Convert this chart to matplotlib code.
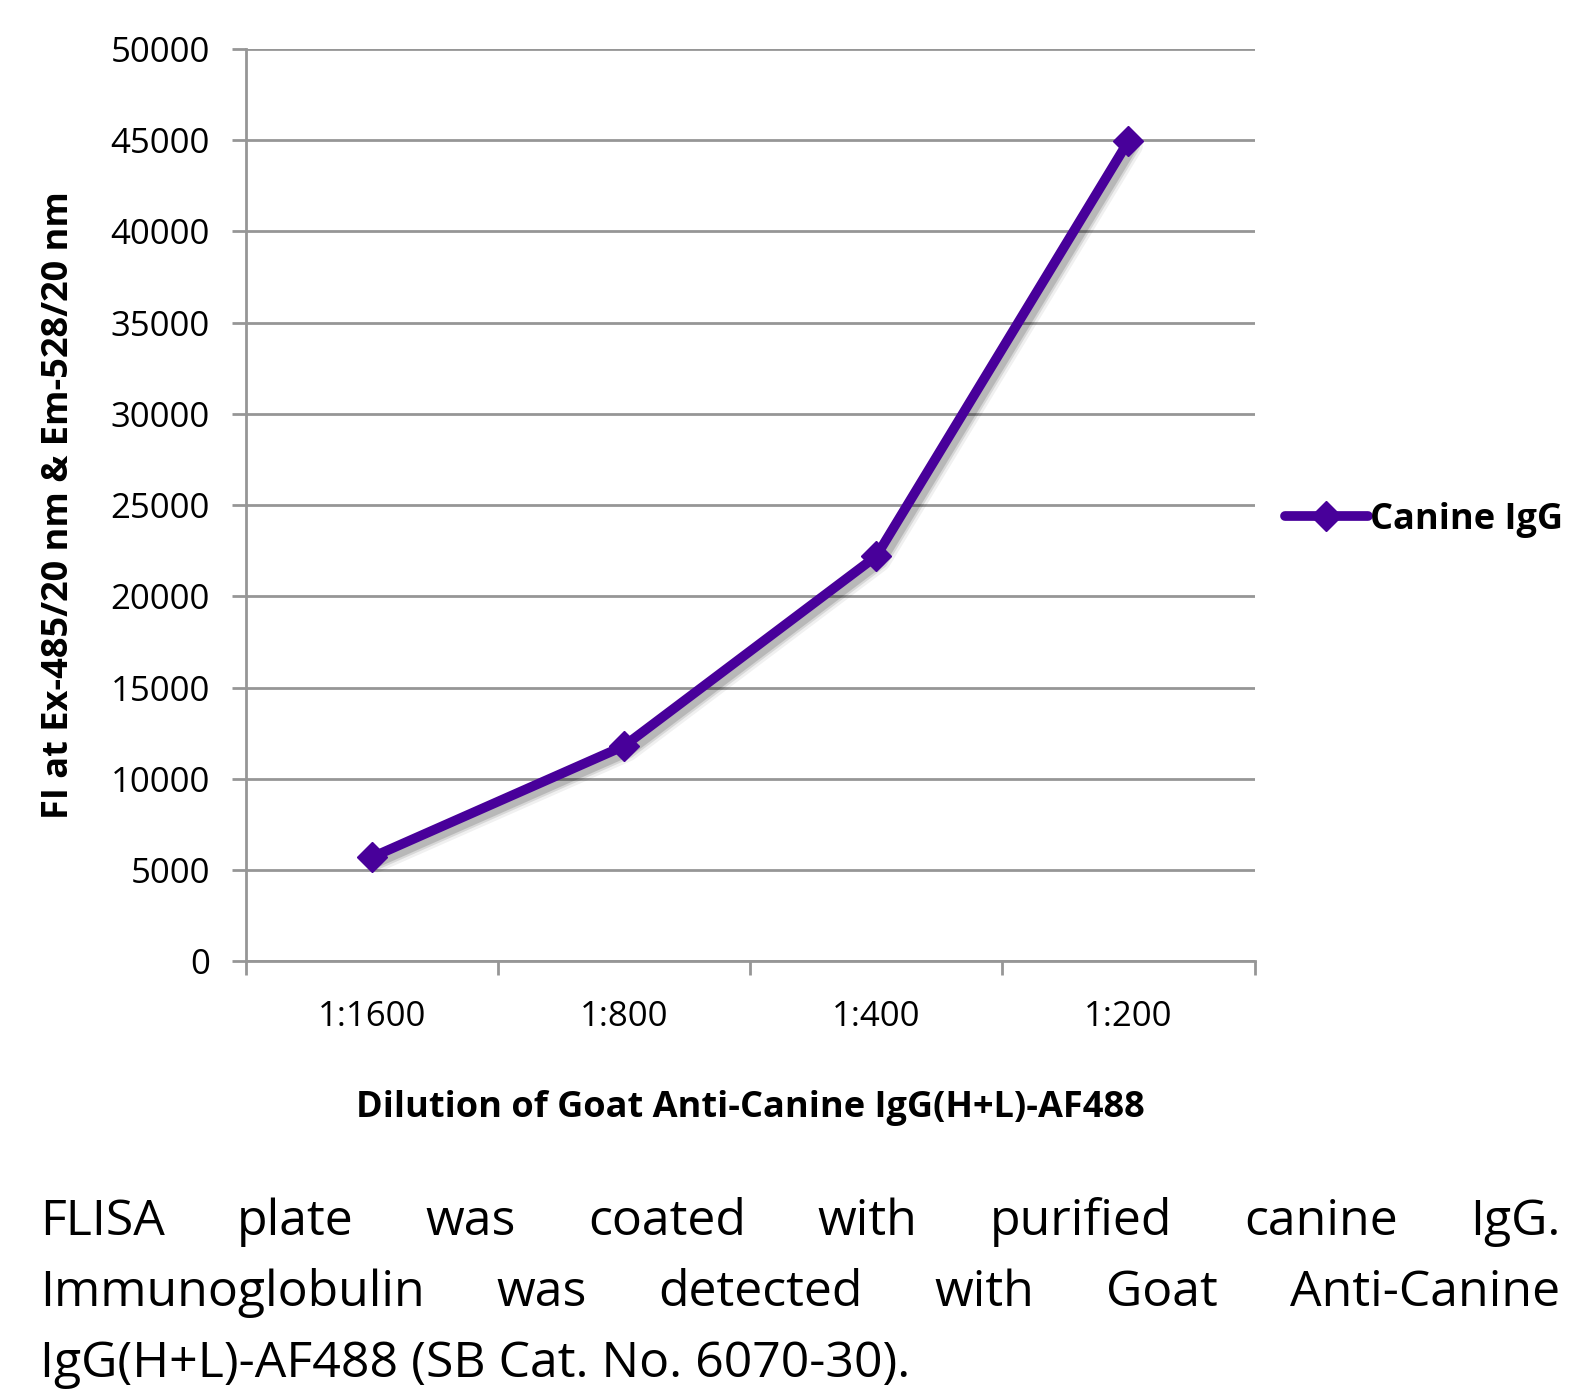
import matplotlib
matplotlib.use("Agg")
import matplotlib.pyplot as plt
import matplotlib.transforms as mtransforms

plt.rcParams['font.family'] = ['Open Sans', 'DejaVu Sans']

# data
dilutions = ["1:1600", "1:800", "1:400", "1:200"]
canine_igg = [5700, 11800, 22200, 44950]
y_ticks = [0, 5000, 10000, 15000, 20000, 25000, 30000, 35000, 40000, 45000, 50000]

caption_lines = [
    "FLISA plate was coated with purified canine IgG.",
    "Immunoglobulin was detected with Goat Anti-Canine",
    "IgG(H+L)-AF488 (SB Cat. No. 6070-30).",
]

line_col = "#48009a"
grid_col = "#969696"

fig = plt.figure(figsize=(15.9, 13.91), dpi=100)
ax = fig.add_axes([0.1547, 0.309, 0.789 - 0.1547, 0.9648 - 0.309])

xs = list(range(len(dilutions)))

# soft drop shadow
for k, (lw, a) in enumerate([(15, 0.06), (11, 0.10), (8, 0.14)]):
    shift = mtransforms.ScaledTranslation(4 / 100, -5 / 100, fig.dpi_scale_trans)
    ax.plot(xs, canine_igg, color="k", lw=lw, alpha=a, solid_capstyle="round",
            solid_joinstyle="round", transform=ax.transData + shift, zorder=2)

ax.plot(xs, canine_igg, color=line_col, lw=7, marker="D", ms=15,
        solid_joinstyle="round", solid_capstyle="round", label="Canine IgG", zorder=3)

ax.set_xlim(-0.5, 3.5)
ax.set_ylim(0, 50000)
ax.set_yticks(y_ticks)
ax.set_yticklabels([str(v) for v in y_ticks], fontsize=25)
ax.set_xticks([-0.5, 0.5, 1.5, 2.5, 3.5])
ax.set_xticklabels([])
ax.set_xticks(xs, minor=True)
ax.set_xticklabels(dilutions, minor=True, fontsize=25)
ax.tick_params(axis="x", which="minor", length=0, pad=28)
ax.tick_params(axis="x", which="major", length=10, width=2, color=grid_col)
ax.tick_params(axis="y", length=10, width=2, color=grid_col, pad=16)

ax.grid(axis="y", color=grid_col, lw=2)
ax.set_axisbelow(True)
for s in ["top", "right"]:
    ax.spines[s].set_visible(False)
for s in ["left", "bottom"]:
    ax.spines[s].set_color(grid_col)
    ax.spines[s].set_linewidth(2)

ax.set_ylabel("FI at Ex-485/20 nm & Em-528/20 nm", fontsize=26, fontweight="bold", labelpad=24)
ax.set_xlabel("Dilution of Goat Anti-Canine IgG(H+L)-AF488", fontsize=26, fontweight="bold", labelpad=40)

ax.legend(loc="center left", bbox_to_anchor=(1.03, 0.484), frameon=False,
          prop={"size": 26, "weight": "bold"}, handlelength=2.3, handletextpad=0.05,
          borderaxespad=0, borderpad=0)

# caption, justified like the original
fig.canvas.draw()
r = fig.canvas.get_renderer()
x0, x1 = 40.0, 1560.0
ys = [1222, 1293, 1364]
for i, line in enumerate(caption_lines):
    y = 1391 - ys[i]
    words = line.split(" ")
    if i == len(caption_lines) - 1:
        fig.text(x0 / 1590, y / 1391, line, fontsize=36, va="center", ha="left")
        continue
    objs = [fig.text(0, y / 1391, w, fontsize=36, va="center", ha="left") for w in words]
    widths = [o.get_window_extent(r).width for o in objs]
    gap = (x1 - x0 - sum(widths)) / (len(words) - 1)
    x = x0
    for o, w in zip(objs, widths):
        o.set_x(x / 1590)
        x += w + gap

fig.savefig("out.png", dpi=100)
